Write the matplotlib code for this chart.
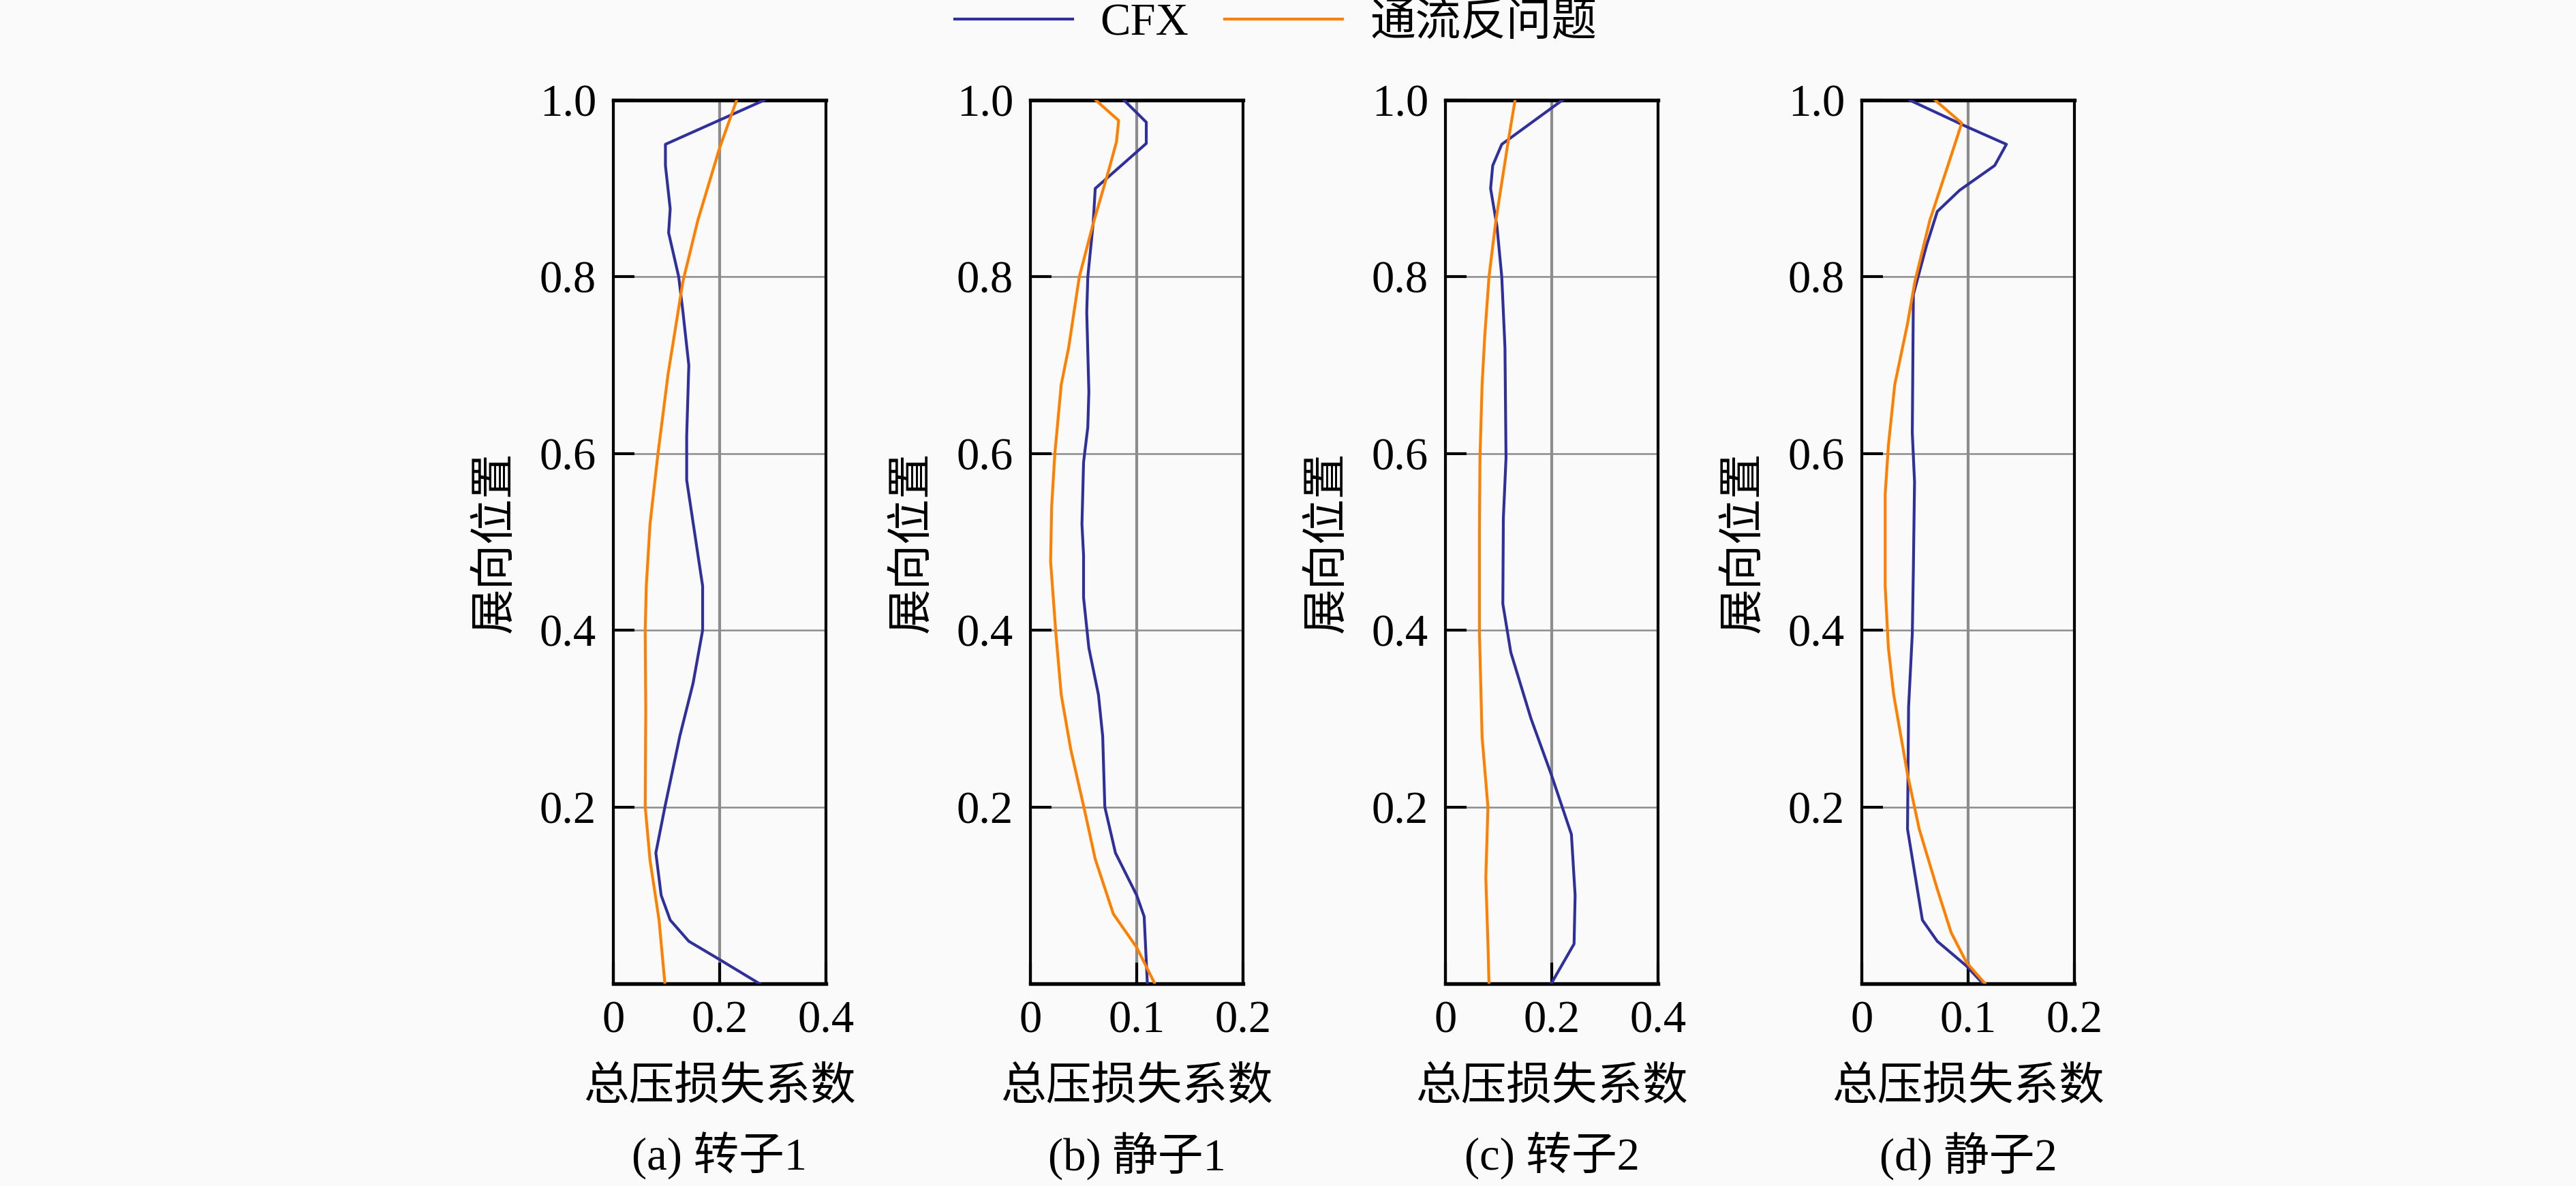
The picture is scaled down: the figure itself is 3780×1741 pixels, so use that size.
import numpy as np
import matplotlib
matplotlib.use("Agg")
import matplotlib.pyplot as plt

plt.rcParams['font.family'] = ['Liberation Serif', 'Noto Sans CJK SC']
plt.rcParams['axes.unicode_minus'] = False

# spanwise position and total pressure loss coefficient
# (a) rotor 1
a_cfx_y = [1.0, 0.95, 0.926, 0.877, 0.85, 0.80, 0.76, 0.70, 0.62, 0.57, 0.45, 0.40,
           0.34, 0.28, 0.20, 0.148, 0.10, 0.072, 0.048, 0.028, 0.0]
a_cfx_x = [0.284, 0.098, 0.098, 0.107, 0.104, 0.123, 0.131, 0.142, 0.138, 0.138, 0.168, 0.168,
           0.15, 0.125, 0.097, 0.08, 0.09, 0.107, 0.142, 0.198, 0.275]
a_inv_y = [1.0, 0.946, 0.864, 0.795, 0.69, 0.60, 0.52, 0.45, 0.40, 0.31, 0.20, 0.14, 0.072, 0.0]
a_inv_x = [0.232, 0.2, 0.159, 0.131, 0.103, 0.084, 0.069, 0.062, 0.060, 0.061, 0.06, 0.069, 0.086, 0.097]

# (b) stator 1
b_cfx_y = [1.0, 0.975, 0.951, 0.90, 0.86, 0.80, 0.76, 0.67, 0.63, 0.59, 0.52, 0.485, 0.437,
           0.38, 0.327, 0.28, 0.20, 0.148, 0.10, 0.076, 0.0]
b_cfx_x = [0.088, 0.109, 0.109, 0.061, 0.059, 0.054, 0.053, 0.055, 0.054, 0.05, 0.0485, 0.05, 0.05,
           0.055, 0.064, 0.068, 0.07, 0.08, 0.10, 0.107, 0.11]
b_inv_y = [1.0, 0.977, 0.953, 0.922, 0.86, 0.80, 0.72, 0.678, 0.60, 0.54, 0.478, 0.396, 0.327,
           0.265, 0.196, 0.141, 0.079, 0.041, 0.0]
b_inv_x = [0.0615, 0.083, 0.081, 0.074, 0.059, 0.046, 0.036, 0.029, 0.023, 0.020, 0.019, 0.024, 0.029,
           0.038, 0.051, 0.061, 0.078, 0.10, 0.117]

# (c) rotor 2
c_cfx_y = [1.0, 0.95, 0.926, 0.90, 0.857, 0.80, 0.72, 0.595, 0.527, 0.43, 0.375, 0.30, 0.237,
           0.169, 0.10, 0.045, 0.0]
c_cfx_x = [0.22, 0.106, 0.089, 0.085, 0.097, 0.106, 0.112, 0.114, 0.109, 0.108, 0.123, 0.161, 0.199,
           0.237, 0.244, 0.242, 0.199]
c_inv_y = [1.0, 0.953, 0.864, 0.80, 0.733, 0.678, 0.595, 0.513, 0.396, 0.279, 0.20, 0.12, 0.045, 0.0]
c_inv_x = [0.131, 0.118, 0.095, 0.082, 0.074, 0.069, 0.065, 0.064, 0.064, 0.069, 0.080, 0.076, 0.08, 0.082]

# (d) stator 2
d_cfx_y = [1.0, 0.97, 0.95, 0.926, 0.898, 0.874, 0.836, 0.78, 0.623, 0.568, 0.47, 0.396, 0.313,
           0.175, 0.072, 0.048, 0.02, 0.0]
d_cfx_x = [0.045, 0.0985, 0.136, 0.125, 0.092, 0.071, 0.061, 0.0485, 0.0475, 0.0496, 0.0485, 0.0475, 0.044,
           0.043, 0.057, 0.071, 0.0985, 0.114]
d_inv_y = [1.0, 0.974, 0.926, 0.864, 0.795, 0.747, 0.678, 0.609, 0.554, 0.45, 0.38, 0.327, 0.237,
           0.175, 0.107, 0.058, 0.024, 0.0]
d_inv_x = [0.069, 0.094, 0.081, 0.064, 0.050, 0.043, 0.031, 0.025, 0.022, 0.022, 0.025, 0.030, 0.043,
           0.054, 0.071, 0.084, 0.0985, 0.116]

captions = ['(a) 转子1', '(b) 静子1', '(c) 转子2', '(d) 静子2']
x_maxes = [0.4, 0.2, 0.4, 0.2]
x_tick_labels = [['0', '0.2', '0.4'], ['0', '0.1', '0.2'], ['0', '0.2', '0.4'], ['0', '0.1', '0.2']]
y_ticks = [0.2, 0.4, 0.6, 0.8, 1.0]
y_tick_labels = ['0.2', '0.4', '0.6', '0.8', '1.0']
series_names = ['CFX', '通流反问题']

cfx_data = [(a_cfx_x, a_cfx_y), (b_cfx_x, b_cfx_y), (c_cfx_x, c_cfx_y), (d_cfx_x, d_cfx_y)]
inv_data = [(a_inv_x, a_inv_y), (b_inv_x, b_inv_y), (c_inv_x, c_inv_y), (d_inv_x, d_inv_y)]

blue = '#30309c'
orange = '#ff8000'
fs = 16

fig = plt.figure(figsize=(12.6, 1741 / 300), dpi=300, facecolor='#fafafa')
lefts = [900, 1512, 2121, 2732]

for i in range(4):
    ax = fig.add_axes([lefts[i] / 3780, (1741 - 1444) / 1741, 312 / 3780, 1297 / 1741])
    ax.set_facecolor('#fafafa')
    xm = x_maxes[i]
    ax.plot(cfx_data[i][0], cfx_data[i][1], color=blue, lw=1.0, label=series_names[0], zorder=3)
    ax.plot(inv_data[i][0], inv_data[i][1], color=orange, lw=1.0, label=series_names[1], zorder=3)
    ax.set_xlim(0, xm)
    ax.set_ylim(0, 1)
    ax.set_xticks([0, xm / 2, xm])
    ax.set_xticklabels(x_tick_labels[i])
    ax.set_yticks(y_ticks)
    ax.set_yticklabels(y_tick_labels)
    ax.tick_params(direction='in', length=7.5, width=1.0, labelsize=fs, pad=6, color='black')
    ax.grid(axis='x', color='#8c8c8c', lw=1.0, zorder=1)
    ax.grid(axis='y', color='#8c8c8c', lw=0.6, zorder=1)
    for sp in ax.spines.values():
        sp.set_linewidth(1.0)
    ax.spines['top'].set_linewidth(1.3)
    ax.spines['bottom'].set_linewidth(1.3)
    ax.text(0.5, -0.118, '总压损失系数', transform=ax.transAxes, ha='center', va='center', fontsize=fs)
    ax.text(0.5, -0.195, captions[i], transform=ax.transAxes, ha='center', va='center', fontsize=fs)
    ax.text(-0.554, 0.5, '展向位置', transform=ax.transAxes, ha='center', va='center',
            rotation=90, fontsize=fs)
    if i == 0:
        handles, labels = ax.get_legend_handles_labels()

fig.legend(handles, labels, loc='center', bbox_to_anchor=(1872 / 3780, 0.98), ncol=2,
           frameon=False, fontsize=fs, handlelength=2.6, handletextpad=0.6, columnspacing=0.8)

fig.savefig('out.png', dpi=300, facecolor=fig.get_facecolor())
